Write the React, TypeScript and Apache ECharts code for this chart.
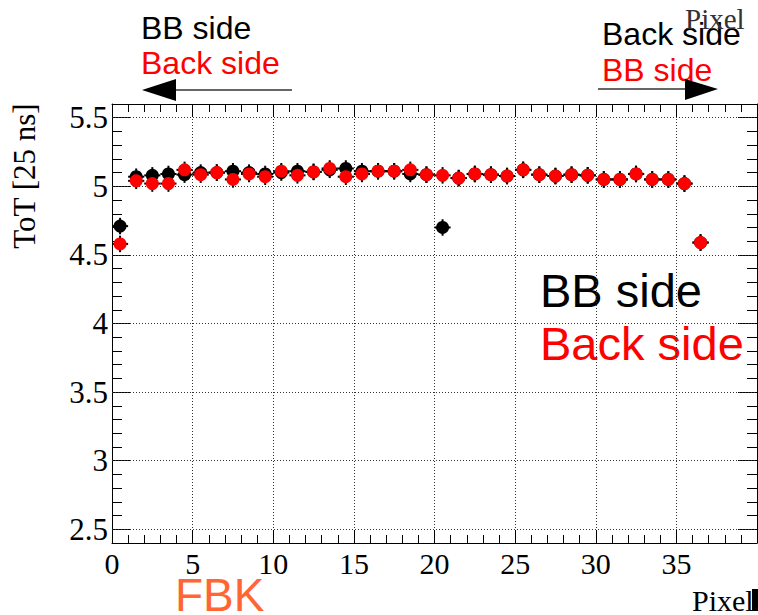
import React, { useEffect, useRef } from "react";
import * as echarts from "echarts";

// Pixel centres (x) and ToT values [25 ns]
const pixels = [
  0.5, 1.5, 2.5, 3.5, 4.5, 5.5, 6.5, 7.5, 8.5, 9.5, 10.5, 11.5, 12.5, 13.5, 14.5, 15.5, 16.5, 17.5, 18.5,
  19.5, 20.5, 21.5, 22.5, 23.5, 24.5, 25.5, 26.5, 27.5, 28.5, 29.5, 30.5, 31.5, 32.5, 33.5, 34.5, 35.5, 36.5,
];
const bbSideValues = [
  4.71, 5.07, 5.08, 5.09, 5.085, 5.1, 5.1, 5.11, 5.1, 5.09, 5.1, 5.11, 5.105, 5.12, 5.13, 5.11, 5.11, 5.11, 5.09,
  5.085, 4.7, 5.06, 5.09, 5.085, 5.075, 5.12, 5.085, 5.075, 5.085, 5.08, 5.05, 5.05, 5.09, 5.05, 5.05, 5.02, 4.59,
];
const backSideValues = [
  4.58, 5.04, 5.02, 5.02, 5.12, 5.085, 5.1, 5.05, 5.09, 5.07, 5.11, 5.08, 5.105, 5.13, 5.07, 5.09, 5.11, 5.11, 5.12,
  5.085, 5.08, 5.06, 5.09, 5.085, 5.075, 5.12, 5.085, 5.075, 5.085, 5.08, 5.05, 5.05, 5.09, 5.05, 5.05, 5.02, 4.59,
];
const errX = 0.5;
const errY = 0.06;

const xLabelTicks = [0, 5, 10, 15, 20, 25, 30, 35];
const yMajorTicks = [2.5, 3, 3.5, 4, 4.5, 5, 5.5];
const X_MIN = 0;
const X_MAX = 40;
const Y_MIN = 2.4;
const Y_MAX = 5.6;

const SERIF = '"Liberation Serif", "Times New Roman", serif';
const SANS = '"Liberation Sans", Arial, sans-serif';

function errorBars(name: string, values: number[]) {
  return {
    name: name + " errors",
    type: "custom",
    xAxisIndex: 0,
    yAxisIndex: 0,
    silent: true,
    z: 3,
    data: pixels.map((p, i) => [p, values[i]]),
    renderItem: (_params: any, api: any) => {
      const x = api.value(0);
      const y = api.value(1);
      const a = api.coord([x - errX, y]);
      const b = api.coord([x + errX, y]);
      const c = api.coord([x, y - errY]);
      const d = api.coord([x, y + errY]);
      const style = { stroke: "#000", lineWidth: 2 };
      return {
        type: "group",
        children: [
          { type: "line", shape: { x1: a[0], y1: a[1], x2: b[0], y2: b[1] }, style },
          { type: "line", shape: { x1: c[0], y1: c[1], x2: d[0], y2: d[1] }, style },
        ],
      };
    },
  };
}

export default function App() {
  const ref = useRef<HTMLDivElement>(null);
  useEffect(() => {
    const chart = echarts.init(ref.current!, null, { renderer: "svg" });
    const frameLine = { show: true, lineStyle: { color: "#000", width: 1 } };
    const gridLine = { color: "#333", width: 1, type: [1, 2] as any };
    const xBase = {
      type: "value",
      min: X_MIN,
      max: X_MAX,
      interval: 5,
      axisLine: frameLine,
      axisTick: { show: true, inside: true, length: 13, lineStyle: { color: "#000", width: 1 } },
      minorTick: { show: true, splitNumber: 5, length: 8, lineStyle: { color: "#000", width: 1 } },
    };
    const yMinor = {
      type: "value",
      min: Y_MIN,
      max: Y_MAX,
      interval: 0.1,
      axisLine: frameLine,
      axisTick: { show: true, inside: true, length: 10, lineStyle: { color: "#000", width: 1 } },
      axisLabel: { show: false },
      splitLine: { show: false },
    };
    const yMajor = {
      type: "value",
      min: Y_MIN,
      max: Y_MAX,
      axisLine: { show: false },
      axisTick: {
        show: true,
        inside: true,
        length: 19,
        customValues: yMajorTicks,
        lineStyle: { color: "#000", width: 1 },
      },
      splitLine: { show: false },
    };
    chart.setOption({
      animation: false,
      backgroundColor: "#fff",
      grid: { left: 112, top: 104, right: 1, bottom: 72, containLabel: false },
      xAxis: [
        {
          ...xBase,
          position: "bottom",
          axisLabel: {
            show: true,
            customValues: xLabelTicks,
            color: "#000",
            fontFamily: SERIF,
            fontSize: 30,
            margin: 5,
          },
          splitLine: { show: true, lineStyle: gridLine },
        },
        {
          ...xBase,
          position: "top",
          axisLabel: { show: false },
          splitLine: { show: false },
        },
      ],
      yAxis: [
        { ...yMinor, position: "left" },
        {
          ...yMajor,
          position: "left",
          axisLabel: {
            show: true,
            customValues: yMajorTicks,
            color: "#000",
            fontFamily: SERIF,
            fontSize: 31,
            margin: 4,
            formatter: (v: number) => String(v),
          },
        },
        { ...yMinor, position: "right" },
        { ...yMajor, position: "right", axisLabel: { show: false } },
      ],
      series: [
        {
          name: "grid",
          type: "line",
          xAxisIndex: 0,
          yAxisIndex: 0,
          data: [],
          silent: true,
          markLine: {
            silent: true,
            symbol: ["none", "none"],
            label: { show: false },
            lineStyle: gridLine,
            emphasis: { disabled: true },
            data: yMajorTicks.map((v) => ({ yAxis: v })),
          },
        },
        errorBars("BB side", bbSideValues),
        {
          name: "BB side",
          type: "scatter",
          xAxisIndex: 0,
          yAxisIndex: 0,
          symbol: "circle",
          symbolSize: 13,
          itemStyle: { color: "#000", opacity: 1 },
          z: 4,
          data: pixels.map((p, i) => [p, bbSideValues[i]]),
        },
        { ...errorBars("Back side", backSideValues), z: 5 },
        {
          name: "Back side",
          type: "scatter",
          xAxisIndex: 0,
          yAxisIndex: 0,
          symbol: "circle",
          symbolSize: 13,
          itemStyle: { color: "#ff0000", opacity: 1 },
          z: 6,
          data: pixels.map((p, i) => [p, backSideValues[i]]),
        },
      ],
      graphic: [
        // top-left annotation
        { type: "text", x: 141, y: 28, style: { text: "BB side", fill: "#000", font: `32px ${SANS}`, verticalAlign: "middle" } },
        { type: "text", x: 141, y: 63, style: { text: "Back side", fill: "#ff0000", font: `32px ${SANS}`, verticalAlign: "middle" } },
        { type: "line", shape: { x1: 175, y1: 90, x2: 292, y2: 90 }, style: { stroke: "#333", lineWidth: 1.5 } },
        { type: "polygon", shape: { points: [[142, 90], [176, 79], [176, 101]] }, style: { fill: "#000" } },
        // top-right annotation
        { type: "text", x: 602, y: 34, style: { text: "Back side", fill: "#000", font: `32px ${SANS}`, verticalAlign: "middle" } },
        { type: "text", x: 602, y: 70, style: { text: "BB side", fill: "#ff0000", font: `32px ${SANS}`, verticalAlign: "middle" } },
        { type: "line", shape: { x1: 598, y1: 89, x2: 686, y2: 89 }, style: { stroke: "#333", lineWidth: 1.5 } },
        { type: "polygon", shape: { points: [[718, 89], [685, 79], [685, 100]] }, style: { fill: "#000" } },
        { type: "text", x: 685, y: 19, style: { text: "Pixel", fill: "#333", font: `29px ${SERIF}`, verticalAlign: "middle" } },
        // legend-like labels
        { type: "text", x: 540, y: 290, style: { text: "BB side", fill: "#000", font: `47px ${SANS}`, verticalAlign: "middle" } },
        { type: "text", x: 540, y: 343, style: { text: "Back side", fill: "#ff0000", font: `47px ${SANS}`, verticalAlign: "middle" } },
        // FBK
        { type: "text", x: 175, y: 595, style: { text: "FBK", fill: "#ff6633", font: `46px ${SANS}`, verticalAlign: "middle" } },
        // axis titles
        { type: "text", x: 692, y: 600, style: { text: "Pixel", fill: "#000", font: `30px ${SERIF}`, verticalAlign: "middle" } },
        { type: "rect", shape: { x: 752, y: 589, width: 6, height: 22 }, style: { fill: "#000" } },
        {
          type: "text",
          x: 24,
          y: 176,
          rotation: Math.PI / 2,
          style: { text: "ToT [25 ns]", fill: "#000", font: `31px ${SERIF}`, align: "center", verticalAlign: "middle" },
        },
      ],
    });
    return () => chart.dispose();
  }, []);
  return <div ref={ref} style={{ position: "fixed", left: 0, top: 0, width: 758, height: 615 }} />;
}
